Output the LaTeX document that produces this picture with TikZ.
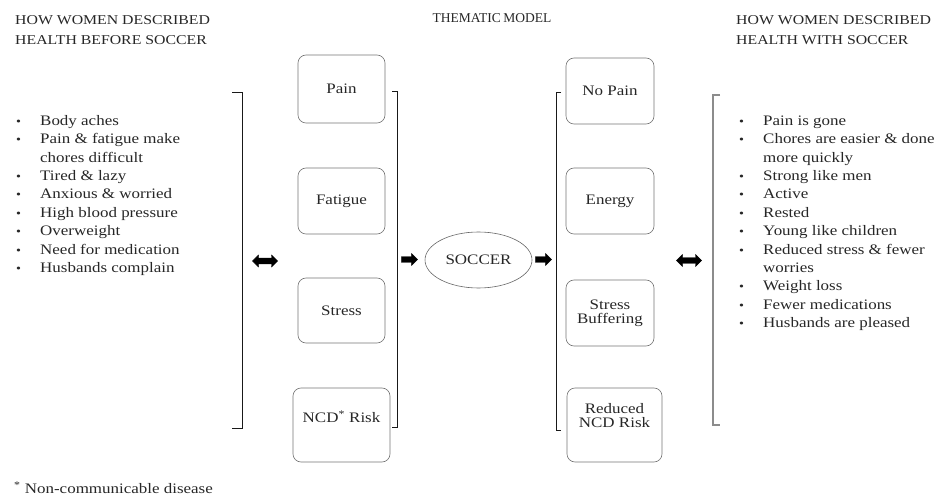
\documentclass[tikz,border=0pt]{standalone}
\usepackage{fontspec}
\setmainfont{Liberation Serif}[FakeStretch=1.17]
\newfontfamily\plainserif{Liberation Serif}
\usetikzlibrary{shapes.geometric,shapes.arrows}
\begin{document}
\begin{tikzpicture}[x=1pt,y=-1pt,
  txt/.style={font=\fontsize{14.5}{16}\selectfont, text=black!85, inner sep=0pt},
  head/.style={font=\fontsize{13.5}{20.5}\selectfont, text=black!85, inner sep=0pt, align=left},
  item/.style={txt, anchor=mid west},
  bul/.style={font=\fontsize{12}{12}\selectfont, text=black!85, inner sep=0pt, anchor=mid west},
  cbox/.style={draw=black!55, line width=0.6pt, rounded corners=8pt, txt, align=center},
  brk/.style={line width=1pt, black!90},
  gbrk/.style={line width=1.4pt, black!45},
  sarr/.style={single arrow, fill=black, draw=black, line width=0.4pt, minimum height=16pt, minimum width=12pt, single arrow head extend=3pt, inner sep=0pt},
  darr/.style={double arrow, fill=black, draw=black, line width=0.4pt, minimum height=25pt, minimum width=12pt, double arrow head extend=3pt, inner sep=0pt}
]
\useasboundingbox (0,0) rectangle (943,497);

% headings
\node[head, anchor=north west] (hl) at (15,15) {HOW WOMEN DESCRIBED\\HEALTH BEFORE SOCCER};
\node[head, font=\plainserif\fontsize{13.5}{16}\selectfont, anchor=mid] (hm) at (492,20) {THEMATIC\hspace{2.5pt}MODEL};
\node[head, anchor=north west] (hr) at (736,15) {HOW WOMEN DESCRIBED\\HEALTH WITH SOCCER};

% left list
\foreach \t/\b [count=\i from 0] in {Body aches/1, Pain \& fatigue make/1, chores difficult/0, Tired \& lazy/1, Anxious \& worried/1, High blood pressure/1, Overweight/1, Need for medication/1, Husbands complain/1}{
  \node[item] (l\i) at (40,123+18.4*\i) {\t};
  \ifnum\b=1 \node[bul] (lb\i) at (16,123+18.4*\i) {\textbullet};\fi
}

% right list
\foreach \t/\b [count=\i from 0] in {Pain is gone/1, Chores are easier \& done/1, more quickly/0, Strong like men/1, Active/1, Rested/1, Young like children/1, Reduced stress \& fewer/1, worries/0, Weight loss/1, Fewer medications/1, Husbands are pleased/1}{
  \node[item] (r\i) at (763,123+18.4*\i) {\t};
  \ifnum\b=1 \node[bul] (rb\i) at (739,123+18.4*\i) {\textbullet};\fi
}

% brackets
\draw[brk] (232,93) -- (242,93) -- (242,428) -- (232,428);
\draw[brk] (392,92) -- (397,92) -- (397,427) -- (392,427);
\draw[brk] (561,93) -- (556,93) -- (556,430) -- (561,430);
\draw[gbrk] (720,95) -- (713,95) -- (713,425) -- (720,425);

% left boxes
\node[cbox, minimum width=87pt, minimum height=68pt] (pain) at (341.5,89) {Pain};
\node[cbox, minimum width=87pt, minimum height=66pt] (fatigue) at (341.5,201) {Fatigue};
\node[cbox, minimum width=87pt, minimum height=65pt] (stress) at (341.5,310.5) {Stress};
\node[cbox, minimum width=97pt, minimum height=74pt] (ncd) at (341.5,425) {};
\node[txt] (ncdt) at (341.5,417) {NCD\textsuperscript{*} Risk};

% soccer
\node[ellipse, draw=black!60, line width=0.6pt, minimum width=107pt, minimum height=56pt, txt] (soccer) at (478.5,260) {SOCCER};

% right boxes
\node[cbox, minimum width=88pt, minimum height=66pt] (nopain) at (610,91) {No Pain};
\node[cbox, minimum width=88pt, minimum height=66pt] (energy) at (610,201) {Energy};
\node[cbox, minimum width=88pt, minimum height=66pt] (buffer) at (610,313) {Stress\\[-2pt]Buffering};
\node[cbox, minimum width=95pt, minimum height=74pt] (reduced) at (614.5,425) {};
\node[txt, align=center] (reducedt) at (614.5,416) {Reduced\\[-2pt]NCD Risk};

% arrows
\node[darr] (a1) at (265,261) {\rule{0pt}{5.5pt}};
\node[sarr] (a2) at (408,259.5) {\rule{0pt}{5.5pt}};
\node[sarr] (a3) at (542,259.5) {\rule{0pt}{5.5pt}};
\node[darr] (a4) at (689,260.5) {\rule{0pt}{5.5pt}};

% footnote
\node[txt, anchor=mid west] (foot) at (14,491) {\textsuperscript{*} Non-communicable disease};
\end{tikzpicture}
\end{document}
